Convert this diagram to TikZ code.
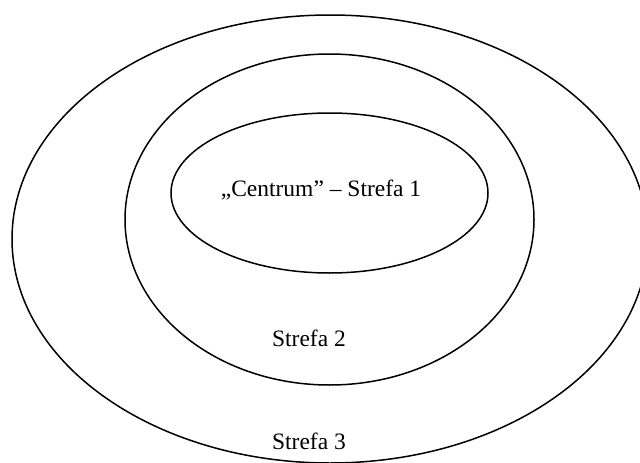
\documentclass[tikz,border=0pt]{standalone}
\usepackage{fontspec}
\setmainfont{Liberation Serif}
\usetikzlibrary{shapes.geometric}
\begin{document}
\begin{tikzpicture}[x=1pt,y=-1pt,
  zone/.style={draw=black, line width=1.5pt, ellipse, inner sep=0pt, outer sep=0pt},
  label/.style={anchor=base, inner sep=0pt, font=\fontsize{23.5}{28}\selectfont}]
  \useasboundingbox (0,0) rectangle (640,463);
  \clip (0,0) rectangle (640,463);
  % concentric zones, outermost first
  \node[zone, minimum width=636pt, minimum height=448pt] (zone3) at (330,239) {};
  \node[zone, minimum width=409pt, minimum height=331pt] (zone2) at (329.5,219.5) {};
  \node[zone, minimum width=317pt, minimum height=160pt] (zone1) at (329.5,193) {};
  % zone names
  \node[label] (name1) at (321,196) {„Centrum” – Strefa 1};
  \node[label] (name2) at (309,346) {Strefa 2};
  \node[label] (name3) at (309,449) {Strefa 3};
\end{tikzpicture}
\end{document}
